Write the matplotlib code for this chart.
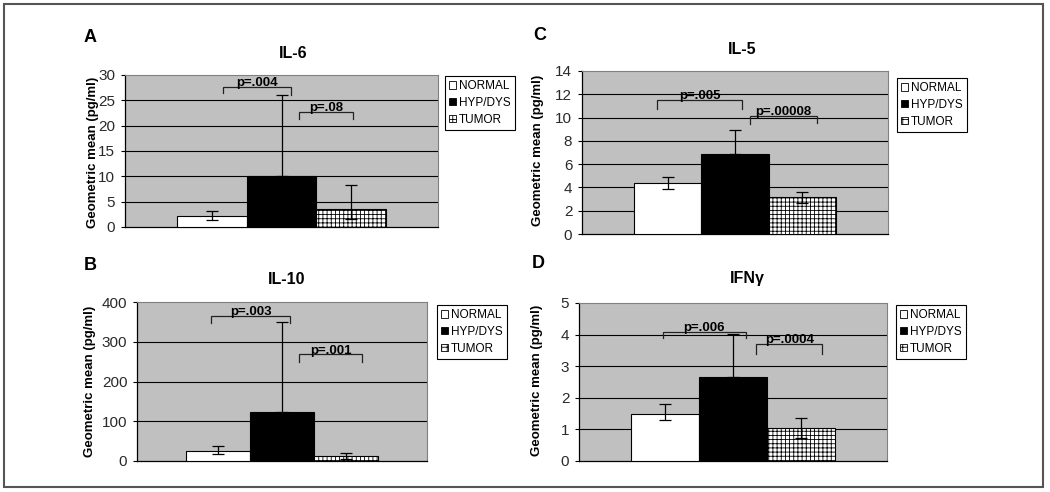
import matplotlib
matplotlib.use("Agg")
import matplotlib.pyplot as plt
from matplotlib.patches import Rectangle, Patch

plt.rcParams['font.family'] = ['Liberation Sans', 'DejaVu Sans']
plt.rcParams['hatch.linewidth'] = 0.6

W, H = 1050, 492

categories = ["NORMAL", "HYP/DYS", "TUMOR"]

# IL-6 (panel A)
il6_mean = [2.1, 10.0, 3.5]
il6_low = [1.3, 10.0, 1.5]
il6_high = [3.1, 26.0, 8.2]
il6_ticks = [0, 5, 10, 15, 20, 25, 30]

# IL-5 (panel C)
il5_mean = [4.4, 6.85, 3.15]
il5_low = [3.9, 6.85, 2.7]
il5_high = [4.9, 8.95, 3.65]
il5_ticks = [0, 2, 4, 6, 8, 10, 12, 14]

# IL-10 (panel B)
il10_mean = [25, 123, 12]
il10_low = [17, 123, 6]
il10_high = [37, 350, 20]
il10_ticks = [0, 100, 200, 300, 400]

# IFN-gamma (panel D)
ifn_mean = [1.5, 2.66, 1.03]
ifn_low = [1.29, 2.66, 0.74]
ifn_high = [1.79, 4.01, 1.37]
ifn_ticks = [0, 1, 2, 3, 4, 5]

# brackets: (x_left, x_right, y_left_leg, y_right_leg, y_top, label)
il6_brackets = [(-0.84, 0.14, 26.5, 26.0, 27.7, "p=.004"),
                (0.25, 1.02, 21.3, 21.3, 22.7, "p=.08")]
il5_brackets = [(-1.16, 0.10, 10.7, 10.7, 11.5, "p=.005"),
                (0.22, 1.22, 9.44, 9.55, 10.15, "p=.00008")]
il10_brackets = [(-1.11, 0.13, 347, 347, 364, "p=.003"),
                 (0.27, 1.25, 249, 249, 268, "p=.001")]
ifn_brackets = [(-1.03, 0.19, 3.9, 3.9, 4.08, "p=.006"),
                (0.34, 1.31, 3.38, 3.38, 3.69, "p=.0004")]

panels = [
    dict(letter="A", title="IL-6", mean=il6_mean, low=il6_low, high=il6_high, ticks=il6_ticks,
         br=il6_brackets, box=(125, 438, 75, 227), xlim=2.236,
         letter_xy=(90, 37), title_xy=(293, 53), ylab_xy=(93, 152), leg_xy=(445, 76)),
    dict(letter="C", title="IL-5", mean=il5_mean, low=il5_low, high=il5_high, ticks=il5_ticks,
         br=il5_brackets, box=(582, 888, 71, 234), xlim=2.28,
         letter_xy=(540, 35), title_xy=(742, 50), ylab_xy=(538, 150), leg_xy=(897, 78)),
    dict(letter="B", title="IL-10", mean=il10_mean, low=il10_low, high=il10_high, ticks=il10_ticks,
         br=il10_brackets, box=(137, 427, 302, 461), xlim=2.27,
         letter_xy=(90, 265), title_xy=(287, 280), ylab_xy=(90, 381), leg_xy=(437, 305)),
    dict(letter="D", title="IFNγ", mean=ifn_mean, low=ifn_low, high=ifn_high, ticks=ifn_ticks,
         br=ifn_brackets, box=(579, 887, 303, 461), xlim=2.26,
         letter_xy=(538, 263), title_xy=(747, 278), ylab_xy=(537, 380), leg_xy=(896, 305)),
]

fig = plt.figure(figsize=(W / 100, H / 100), dpi=100)
fig.patch.set_facecolor('white')

# outer frame
fig.patches.append(Rectangle((4 / W, 1 - 487 / H), (1043 - 4) / W, (487 - 4) / H,
                             transform=fig.transFigure, fill=False,
                             edgecolor='#555555', linewidth=1.5))

faces = ['white', 'black', 'white']
hatches = [None, None, '++++']

for p in panels:
    l, r, t, b = p['box']
    ax = fig.add_axes([l / W, 1 - b / H, (r - l) / W, (b - t) / H])
    ax.set_facecolor('#c0c0c0')
    xs = [-1, 0, 1]
    for i in range(3):
        ax.bar(xs[i], p['mean'][i], width=1.0, color=faces[i], edgecolor='black',
               linewidth=0.8, hatch=hatches[i], zorder=3)
    lo = [p['mean'][i] - p['low'][i] for i in range(3)]
    hi = [p['high'][i] - p['mean'][i] for i in range(3)]
    ax.errorbar(xs, p['mean'], yerr=[lo, hi], fmt='none', ecolor='black',
                elinewidth=0.9, capsize=4, capthick=0.9, zorder=4)
    ax.set_xlim(-p['xlim'], p['xlim'])
    ax.set_ylim(p['ticks'][0], p['ticks'][-1])
    ax.set_yticks(p['ticks'])
    ax.set_xticks([])
    for tk in p['ticks'][1:-1]:
        ax.axhline(tk, color='black', linewidth=0.8, zorder=1)
    ax.tick_params(axis='y', direction='out', length=3, width=0.8, labelsize=11,
                   labelcolor='#2a2a2a', pad=4)
    for s in ['top', 'right']:
        ax.spines[s].set_color('#808080')
        ax.spines[s].set_linewidth(0.8)
    for s in ['left', 'bottom']:
        ax.spines[s].set_color('black')
        ax.spines[s].set_linewidth(0.9)
    for (x1, x2, yl, yr, yt, lab) in p['br']:
        ax.plot([x1, x1, x2, x2], [yl, yt, yt, yr], color='#222222', linewidth=0.9,
                zorder=5, solid_joinstyle='miter')
        ax.annotate(lab, xy=((x1 + x2) / 2, yt), xytext=(0, -1.5), textcoords='offset points',
                    ha='center', va='bottom', fontsize=9.5, fontweight='bold', zorder=6)

    lx, ly = p['letter_xy']
    fig.text(lx / W, 1 - ly / H, p['letter'], ha='center', va='center',
             fontsize=13, fontweight='bold')
    tx, ty = p['title_xy']
    fig.text(tx / W, 1 - ty / H, p['title'], ha='center', va='center',
             fontsize=11.5, fontweight='bold')
    yx, yy = p['ylab_xy']
    fig.text(yx / W, 1 - yy / H, "Geometric mean (pg/ml)", ha='center', va='center',
             rotation=90, fontsize=9.5, fontweight='bold')

    handles = [Patch(facecolor='white', edgecolor='black', linewidth=0.6),
               Patch(facecolor='black', edgecolor='black', linewidth=0.6),
               Patch(facecolor='white', edgecolor='black', linewidth=0.6, hatch='+++')]
    gx, gy = p['leg_xy']
    leg = fig.legend(handles, categories, loc='upper left',
                     bbox_to_anchor=(gx / W, 1 - gy / H), fontsize=8.5,
                     frameon=True, fancybox=False, edgecolor='black', framealpha=1,
                     handlelength=0.6, handleheight=0.6, handletextpad=0.25,
                     borderpad=0.35, labelspacing=0.4, borderaxespad=0)
    leg.get_frame().set_linewidth(0.8)

fig.savefig('out.png', dpi=100, facecolor='white')
